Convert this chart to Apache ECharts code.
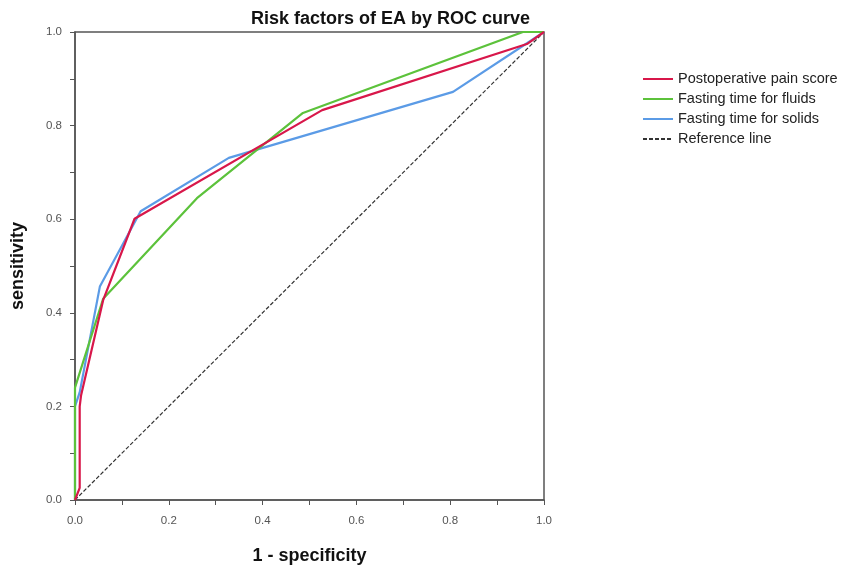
<!DOCTYPE html>
<html>
<head>
<meta charset="utf-8">
<script src="https://cdn.jsdelivr.net/npm/echarts@6/dist/echarts.min.js"></script>
<style>
  html, body { margin: 0; padding: 0; background: #fff; }
  #chart { width: 845px; height: 569px; }
</style>
</head>
<body>
<div id="chart"></div>
<script>
// ROC points (1 - specificity, sensitivity)
const painX = [0, 0.01, 0.01, 0.013, 0.06, 0.127, 0.527, 0.965, 1];
const painY = [0, 0.026, 0.2, 0.224, 0.427, 0.601, 0.833, 0.975, 1];

const fluidsX = [0, 0, 0.06, 0.26, 0.486, 0.955, 1];
const fluidsY = [0, 0.24, 0.43, 0.645, 0.827, 1, 1];

const solidsX = [0, 0, 0.01, 0.053, 0.14, 0.328, 0.806, 1];
const solidsY = [0, 0.2, 0.23, 0.456, 0.617, 0.731, 0.872, 1];

const refX = [0, 1];
const refY = [0, 1];

const names = ['Postoperative pain score', 'Fasting time for fluids', 'Fasting time for solids', 'Reference line'];

const pairs = (xs, ys) => xs.map((x, i) => [x, ys[i]]);

const chart = echarts.init(document.getElementById('chart'));

const font = 'Liberation Sans, Arial, sans-serif';

const axisCommon = {
  type: 'value',
  min: 0,
  max: 1,
  interval: 0.1,
  axisLine: { show: true, lineStyle: { color: '#555', width: 1.5 } },
  axisTick: { show: true, length: 5, lineStyle: { color: '#555' } },
  splitLine: { show: false },
  axisLabel: {
    color: '#555',
    fontSize: 11.5,
    fontFamily: font,
    formatter: v => (Math.round(v * 10) % 2 === 0 ? v.toFixed(1) : '')
  },
  nameLocation: 'middle',
  nameTextStyle: {
    color: '#111',
    fontSize: 18,
    fontWeight: 'bold',
    fontFamily: font
  }
};

chart.setOption({
  animation: false,
  title: {
    text: 'Risk factors of EA by ROC curve',
    right: 310,
    top: 5,
    textStyle: {
      color: '#111',
      fontSize: 18,
      fontWeight: 'bold',
      fontFamily: font
    }
  },
  legend: {
    orient: 'vertical',
    left: 642,
    top: 71,
    padding: 0,
    itemWidth: 30,
    itemHeight: 2,
    itemGap: 4,
    itemStyle: { opacity: 0 },
    data: names,
    textStyle: {
      color: '#222',
      fontSize: 14.5,
      lineHeight: 16,
      fontFamily: font
    }
  },
  grid: {
    left: 75,
    right: 301,
    top: 32,
    bottom: 69,
    containLabel: false,
    outerBoundsMode: 'none',
    show: true,
    borderColor: '#555',
    borderWidth: 1.5
  },
  xAxis: Object.assign({}, axisCommon, {
    name: '1 - specificity',
    nameGap: 47,
    axisLabel: Object.assign({}, axisCommon.axisLabel, { margin: 15 })
  }),
  yAxis: Object.assign({}, axisCommon, {
    name: 'sensitivity',
    nameGap: 48,
    axisLabel: Object.assign({}, axisCommon.axisLabel, { margin: 13 })
  }),
  series: [
    {
      name: names[3], type: 'line', symbol: 'none',
      data: pairs(refX, refY),
      lineStyle: { color: '#333', width: 1.2, type: [4, 2] },
      itemStyle: { color: '#333' }
    },
    {
      name: names[2], type: 'line', symbol: 'none',
      data: pairs(solidsX, solidsY),
      lineStyle: { color: '#5b9be6', width: 2.2 },
      itemStyle: { color: '#5b9be6' }
    },
    {
      name: names[1], type: 'line', symbol: 'none',
      data: pairs(fluidsX, fluidsY),
      lineStyle: { color: '#5cc23b', width: 2.2 },
      itemStyle: { color: '#5cc23b' }
    },
    {
      name: names[0], type: 'line', symbol: 'none',
      data: pairs(painX, painY),
      lineStyle: { color: '#d8174a', width: 2.2 },
      itemStyle: { color: '#d8174a' }
    }
  ]
});
</script>
</body>
</html>
